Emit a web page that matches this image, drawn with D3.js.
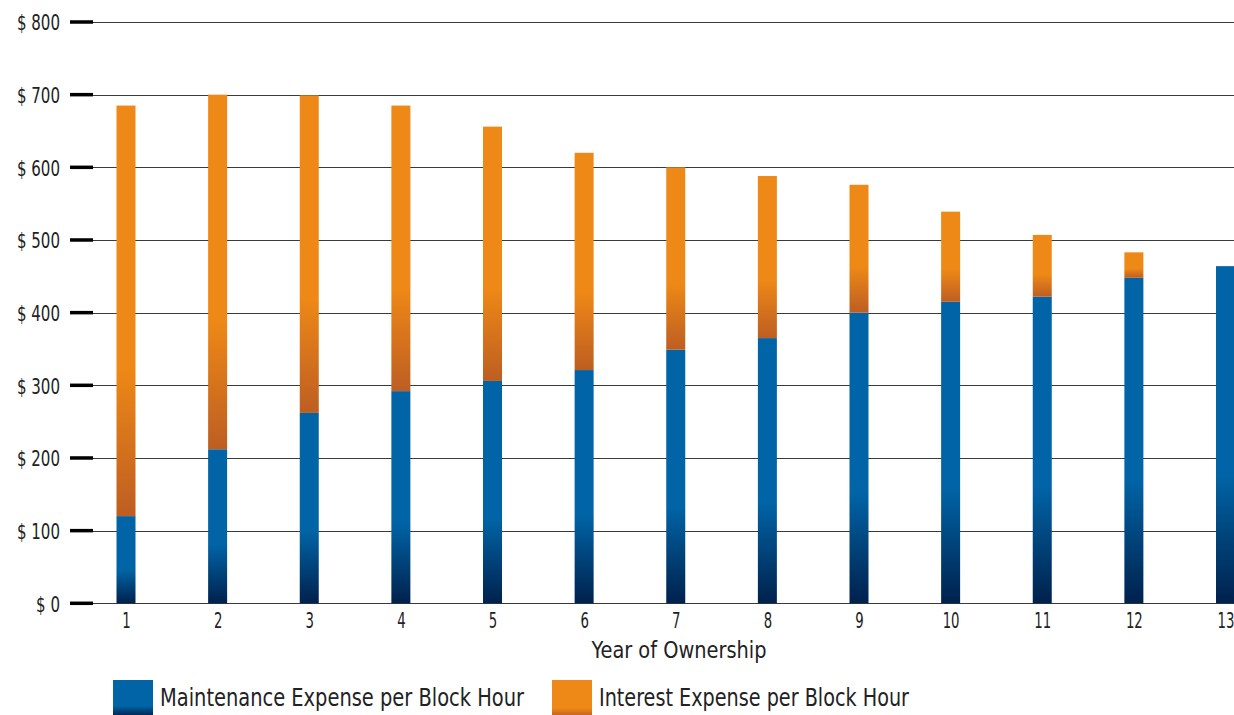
<!DOCTYPE html>
<html>
<head>
<meta charset="utf-8">
<script src="https://cdn.jsdelivr.net/npm/d3@7"></script>
<style>
  html, body { margin: 0; padding: 0; background: #fff; }
  svg { display: block; }
  text { font-family: "Liberation Sans Narrow", "DejaVu Sans Condensed", "Roboto Condensed", sans-serif; fill: #222; }
</style>
</head>
<body>
<svg id="chart" width="1234" height="715"></svg>
<script>
// Year of ownership and per-block-hour costs (USD)
const years = ["1", "2", "3", "4", "5", "6", "7", "8", "9", "10", "11", "12", "13"];
const maintenance = [120, 212, 262, 292, 306, 321, 349, 365, 400, 415, 422, 448, 464];
const interest = [565, 488, 437, 393, 350, 299, 251, 223, 176, 124, 85, 35, 0];
const yTicks = [0, 100, 200, 300, 400, 500, 600, 700, 800];
const seriesNames = ["Maintenance Expense per Block Hour", "Interest Expense per Block Hour"];

const svg = d3.select("#chart");

const y = d3.scaleLinear().domain([0, 800]).range([603.3, 22]);
const x = d3.scalePoint().domain(years).range([126, 1225.5]);
const barW = 19;

// narrow the glyphs to a condensed look
function condense(sel, factor) {
  sel.each(function () {
    const w = this.getComputedTextLength();
    d3.select(this).attr("textLength", w * factor).attr("lengthAdjust", "spacingAndGlyphs");
  });
}
function fitWidth(sel, width) {
  sel.attr("textLength", width).attr("lengthAdjust", "spacingAndGlyphs");
}

// gradients: blue darkens to navy at the base, orange to rust
const defs = svg.append("defs");
function grad(id, top, bottom, start) {
  const g = defs.append("linearGradient").attr("id", id)
    .attr("x1", 0).attr("y1", 0).attr("x2", 0).attr("y2", 1);
  g.append("stop").attr("offset", 0).attr("stop-color", top);
  g.append("stop").attr("offset", start).attr("stop-color", top);
  g.append("stop").attr("offset", 1).attr("stop-color", bottom);
}
grad("gBlue", "#0064a6", "#00214d", 0.62);
grad("gOrange", "#ee8816", "#bd5e22", 0.64);
grad("gBlueKey", "#0064a6", "#00214d", 0.72);
grad("gOrangeKey", "#ee8816", "#c0621f", 0.78);

// gridlines
svg.append("g").selectAll("line").data(yTicks).join("line")
  .attr("x1", 93).attr("x2", 1234)
  .attr("y1", d => Math.round(y(d)) + 0.5).attr("y2", d => Math.round(y(d)) + 0.5)
  .attr("stroke", "#3a3a3a").attr("stroke-width", 1.2);

// y axis: thick tick marks and dollar labels
const yAxis = d3.axisLeft(y).tickValues(yTicks).tickSize(0).tickPadding(0)
  .tickFormat(d => "$ " + d);
const ga = svg.append("g").attr("transform", "translate(60,0)").call(yAxis);
ga.select(".domain").remove();
ga.selectAll("text").attr("font-size", 22).attr("fill", "#222").attr("dy", "0.36em")
  .style("font-family", '"Liberation Sans Narrow", "DejaVu Sans Condensed", sans-serif')
  .call(condense, 0.76);
svg.append("g").selectAll("line").data(yTicks).join("line")
  .attr("x1", 70).attr("x2", 93)
  .attr("y1", d => y(d)).attr("y2", d => y(d))
  .attr("stroke", "#000").attr("stroke-width", 3.5);

// stacked bars
const rows = years.map((yr, i) => ({ yr, m: maintenance[i], it: interest[i] }));
const bars = svg.append("g");
bars.selectAll("rect.m").data(rows).join("rect").attr("class", "m")
  .attr("x", d => x(d.yr) - barW / 2).attr("width", barW)
  .attr("y", d => y(d.m)).attr("height", d => y(0) - y(d.m))
  .attr("fill", "url(#gBlue)");
bars.selectAll("rect.i").data(rows.filter(d => d.it > 0)).join("rect").attr("class", "i")
  .attr("x", d => x(d.yr) - barW / 2).attr("width", barW)
  .attr("y", d => y(d.m + d.it)).attr("height", d => y(d.m) - y(d.m + d.it))
  .attr("fill", "url(#gOrange)");

// x axis labels
const xAxis = d3.axisBottom(x).tickSize(0).tickPadding(0);
const gx = svg.append("g").attr("transform", "translate(0,628)").call(xAxis);
gx.select(".domain").remove();
gx.selectAll("text").attr("font-size", 22).attr("fill", "#222").attr("dy", 0)
  .style("font-family", '"Liberation Sans Narrow", "DejaVu Sans Condensed", sans-serif')
  .call(condense, 0.67);

svg.append("text").attr("x", 679).attr("y", 658).attr("text-anchor", "middle")
  .attr("font-size", 23).text("Year of Ownership").call(fitWidth, 175);

// legend
const legend = [
  { name: seriesNames[0], fill: "url(#gBlueKey)", x: 113, w: 364 },
  { name: seriesNames[1], fill: "url(#gOrangeKey)", x: 552, w: 310 }
];
const lg = svg.append("g").selectAll("g").data(legend).join("g")
  .attr("transform", d => `translate(${d.x},680)`);
lg.append("rect").attr("width", 40).attr("height", 36).attr("fill", d => d.fill);
lg.append("text").attr("x", 47).attr("y", 26).attr("font-size", 25)
  .text(d => d.name)
  .each(function (d) { d3.select(this).call(fitWidth, d.w); });
</script>
</body>
</html>
